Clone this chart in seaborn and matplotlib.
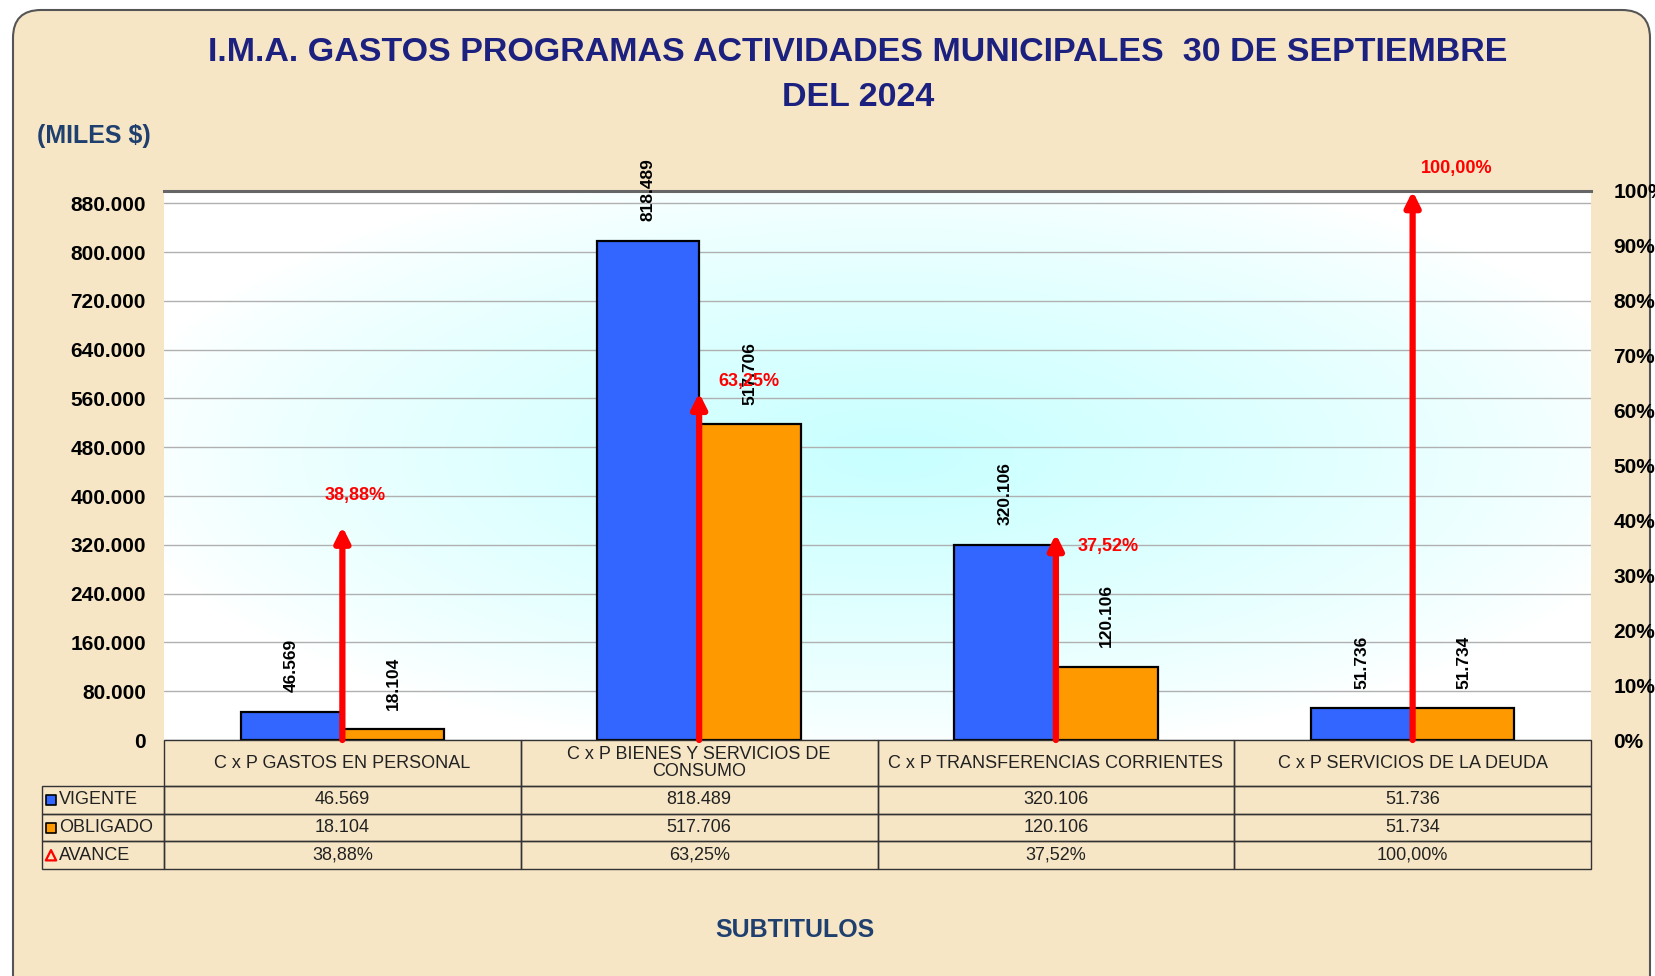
import matplotlib
matplotlib.use("Agg")
import matplotlib.pyplot as plt
import matplotlib.transforms as mtransforms
from matplotlib.patches import FancyBboxPatch, Rectangle
import numpy as np
import pandas as pd
import seaborn as sns

titulo = "I.M.A. GASTOS PROGRAMAS ACTIVIDADES MUNICIPALES  30 DE SEPTIEMBRE\nDEL 2024"
subtitulos = [
    "C x P GASTOS EN PERSONAL",
    "C x P BIENES Y SERVICIOS DE\nCONSUMO",
    "C x P TRANSFERENCIAS CORRIENTES",
    "C x P SERVICIOS DE LA DEUDA",
]
vigente = [46569, 818489, 320106, 51736]
obligado = [18104, 517706, 120106, 51734]
avance = [38.88, 63.25, 37.52, 100.00]
ticks_miles = [0, 80000, 160000, 240000, 320000, 400000, 480000, 560000, 640000, 720000, 800000, 880000]
ticks_pct = [0, 10, 20, 30, 40, 50, 60, 70, 80, 90, 100]

AZUL = "#3366FF"
NARANJA = "#FF9900"
ROJO = "#FF0000"
NAVY = "#1C2180"
BEIGE = "#F6E6C6"
BORDE = "#333333"
FUENTE = ["Liberation Sans", "DejaVu Sans"]

# desplazamiento (pt) de las etiquetas rojas respecto a la punta de la flecha
offsets_avance = [(9, 22), (36, 8), (38, -9), (32, 16)]


def miles(v):
    return f"{v:,}".replace(",", ".")


def pct(p):
    return f"{p:.2f}".replace(".", ",") + "%"


df = pd.DataFrame({
    "subtitulo": subtitulos * 2,
    "serie": ["VIGENTE"] * 4 + ["OBLIGADO"] * 4,
    "monto": vigente + obligado,
})

sns.set_theme(style="white")
plt.rcParams["font.family"] = FUENTE

W, H = 1655, 976
fig = plt.figure(figsize=(W / 100, H / 100), dpi=100, facecolor="white")
marco = FancyBboxPatch((13, -40), 1637, 1006, boxstyle="round,pad=0,rounding_size=28",
                       transform=mtransforms.IdentityTransform(),
                       facecolor=BEIGE, edgecolor="#555555", linewidth=1.5, zorder=-10)
fig.patches.append(marco)

ax = fig.add_axes([164 / W, 1 - 740 / H, 1427 / W, 549 / H])
ax.patch.set_alpha(0)

# fondo degradado del area de trazado
gx, gy = np.meshgrid(np.linspace(0, 1, 300), np.linspace(0, 1, 200))
r = np.sqrt(((gx - 0.51) / 0.55) ** 2 + ((gy - 0.52) / 0.55) ** 2)
t = np.clip(1 - r, 0, 1) ** 0.8
img = np.ones((200, 300, 3))
img[..., 0] = 1 - t * (1 - 200 / 255)
ax.imshow(img, extent=[0, 1, 0, 1], transform=ax.transAxes, aspect="auto",
          origin="lower", zorder=0)

sns.barplot(data=df, x="subtitulo", y="monto", hue="serie", palette=[AZUL, NARANJA],
            saturation=1, width=0.57, gap=0, edgecolor="black", linewidth=1.6,
            legend=False, ax=ax, zorder=2)

ax.set_xlim(-0.5, 3.5)
ax.set_ylim(0, 900000)
ax.set_yticks(ticks_miles)
ax.set_yticklabels([miles(v) for v in ticks_miles], fontweight="bold", fontsize=15)
ax.set_xticks([])
ax.set_xlabel("")
ax.set_ylabel("")
ax.tick_params(axis="y", length=0, pad=13, colors="black")
ax.yaxis.grid(True, color="#B0B0B0", linewidth=1)
ax.set_axisbelow(True)
for lado in ["left", "right", "bottom"]:
    ax.spines[lado].set_visible(False)
ax.spines["top"].set_color("#666666")
ax.spines["top"].set_linewidth(2.2)

for cont, vals in zip(ax.containers, [vigente, obligado]):
    ax.bar_label(cont, labels=[miles(v) for v in vals], rotation=90, padding=14,
                 fontsize=12.5, fontweight="bold", color="black")

ax2 = ax.twinx()
ax2.set_ylim(0, 100)
ax2.set_yticks(ticks_pct)
ax2.set_yticklabels([f"{p}%" for p in ticks_pct], fontweight="bold", fontsize=15)
ax2.tick_params(axis="y", length=0, pad=16, colors="black")
for lado in ["left", "right", "bottom", "top"]:
    ax2.spines[lado].set_visible(False)

for i, p in enumerate(avance):
    ax2.annotate("", xy=(i, p), xytext=(i, 0),
                 arrowprops=dict(arrowstyle="-|>", color=ROJO, lw=4.5,
                                 mutation_scale=22, shrinkA=0, shrinkB=0),
                 zorder=4)
    ax2.annotate(pct(p), xy=(i, p), xytext=offsets_avance[i], textcoords="offset points",
                 ha="center", va="center", color=ROJO, fontweight="bold", fontsize=13,
                 annotation_clip=False, zorder=5)

# tabla de datos bajo el grafico (coordenadas de ejes)
x0 = (42 - 164) / 1427
h_cab = 46 / 549
h_fila = 27.7 / 549
n = len(subtitulos)


def celda(x, y, w, h):
    ax.add_patch(Rectangle((x, y), w, h, transform=ax.transAxes, fill=False,
                           edgecolor=BORDE, linewidth=1, clip_on=False, zorder=6))


for j, s in enumerate(subtitulos):
    celda(j / n, -h_cab, 1 / n, h_cab)
    ax.text((j + 0.5) / n, -h_cab / 2, s, transform=ax.transAxes, ha="center",
            va="center", fontsize=13, linespacing=0.95, color="#222222")

filas = [
    ("VIGENTE", [miles(v) for v in vigente]),
    ("OBLIGADO", [miles(v) for v in obligado]),
    ("AVANCE", [pct(p) for p in avance]),
]
for k, (nombre, vals) in enumerate(filas):
    yb = -h_cab - h_fila * (k + 1)
    yc = yb + h_fila / 2
    celda(x0, yb, -x0, h_fila)
    ax.text(x0 + 17 / 1427, yc, nombre, transform=ax.transAxes, ha="left",
            va="center", fontsize=13, color="#222222")
    for j, v in enumerate(vals):
        celda(j / n, yb, 1 / n, h_fila)
        ax.text((j + 0.5) / n, yc, v, transform=ax.transAxes, ha="center",
                va="center", fontsize=13, color="#222222")

y_filas = [-h_cab - h_fila * (k + 0.5) for k in range(3)]
mx = x0 + 9 / 1427
ax.scatter([mx], [y_filas[0]], marker="s", s=45, color=AZUL, edgecolor="black",
           linewidth=1.2, transform=ax.transAxes, clip_on=False, zorder=7)
ax.scatter([mx], [y_filas[1]], marker="s", s=45, color=NARANJA, edgecolor="black",
           linewidth=1.2, transform=ax.transAxes, clip_on=False, zorder=7)
ax.scatter([mx], [y_filas[2]], marker="^", s=55, color="none", edgecolor=ROJO,
           linewidth=1.6, transform=ax.transAxes, clip_on=False, zorder=7)

fig.text(858 / W, 1 - 75 / H, titulo, ha="center", va="center", color=NAVY,
         fontsize=24.5, fontweight="bold", linespacing=1.55)
fig.text(37 / W, 1 - 136 / H, "(MILES $)", ha="left", va="center", color="#1F3F6E",
         fontsize=18, fontweight="bold")
fig.text(795 / W, 1 - 930 / H, "SUBTITULOS", ha="center", va="center", color="#1F3F6E",
         fontsize=18, fontweight="bold")

fig.savefig("out.png", dpi=100, facecolor="white")
